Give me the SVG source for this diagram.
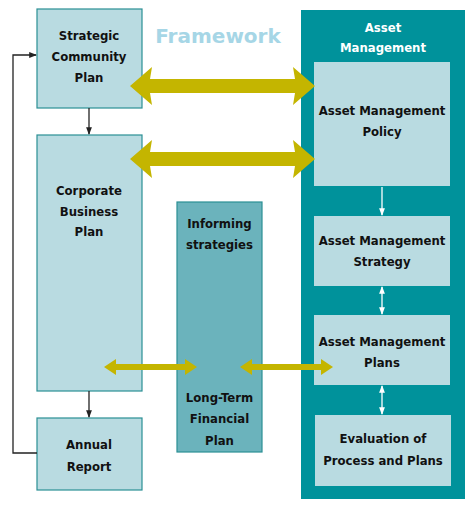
<svg xmlns="http://www.w3.org/2000/svg" width="474" height="507" viewBox="0 0 474 507">
<style>
.box{fill:#b9dbe1;stroke:#2a8f94;stroke-width:1.2}
.t{font-family:"DejaVu Sans Condensed","DejaVu Sans",sans-serif;font-weight:bold;font-size:13px;fill:#111;text-anchor:middle}
.w{fill:#fff}
.blk{stroke:#222;stroke-width:1.3;fill:none}
.wl{stroke:#fff;stroke-width:1.3;fill:none}
.gold{fill:#c4b500}
</style>
<defs>
<marker id="ab" viewBox="0 0 8 8" refX="7" refY="4" markerWidth="6" markerHeight="6" orient="auto-start-reverse"><path d="M0,1 L8,4 L0,7 z" fill="#222"/></marker>
<marker id="aw" viewBox="0 0 8 8" refX="7" refY="4" markerWidth="6" markerHeight="6" orient="auto-start-reverse"><path d="M0,1 L8,4 L0,7 z" fill="#fff"/></marker>
</defs>
<rect width="474" height="507" fill="#fff"/>
<text x="218" y="43" style="font-family:'DejaVu Sans',sans-serif;font-weight:bold;font-size:20px;fill:#a6d6e6;text-anchor:middle">Framework</text>

<g id="asset-management">
<rect x="301" y="10" width="164" height="489" fill="#00929b"/>
<text class="t w" x="383" y="32">Asset</text>
<text class="t w" x="383" y="52">Management</text>
</g>

<g id="strategic-community-plan">
<rect class="box" x="37" y="9" width="105" height="99"/>
<text class="t" x="89" y="40">Strategic</text>
<text class="t" x="89" y="61">Community</text>
<text class="t" x="89" y="82">Plan</text>
</g>
<g id="corporate-business-plan">
<rect class="box" x="37" y="135" width="105" height="256"/>
<text class="t" x="89" y="195">Corporate</text>
<text class="t" x="89" y="216">Business</text>
<text class="t" x="89" y="236">Plan</text>
</g>
<g id="annual-report">
<rect class="box" x="37" y="418" width="105" height="72"/>
<text class="t" x="89" y="449">Annual</text>
<text class="t" x="89" y="471">Report</text>
</g>
<g id="informing-strategies">
<rect x="177" y="202" width="85" height="250" fill="#6bb3bc" stroke="#2a8f94" stroke-width="1.2"/>
<text class="t" x="219.500" y="228">Informing</text>
<text class="t" x="219.500" y="249">strategies</text>
<text class="t" x="219.500" y="402">Long-Term</text>
<text class="t" x="219.500" y="423">Financial</text>
<text class="t" x="219.500" y="445">Plan</text>
</g>
<g id="am-policy">
<rect x="314" y="62" width="136" height="124" fill="#b9dbe1"/>
<text class="t" x="382" y="115">Asset Management</text>
<text class="t" x="382" y="136">Policy</text>
</g>
<g id="am-strategy">
<rect x="314" y="216" width="136" height="70" fill="#b9dbe1"/>
<text class="t" x="382" y="245">Asset Management</text>
<text class="t" x="382" y="266">Strategy</text>
</g>
<g id="am-plans">
<rect x="314" y="315" width="136" height="70" fill="#b9dbe1"/>
<text class="t" x="382" y="346">Asset Management</text>
<text class="t" x="382" y="367">Plans</text>
</g>
<g id="evaluation">
<rect x="315" y="415" width="136" height="71" fill="#b9dbe1"/>
<text class="t" x="383" y="443">Evaluation of</text>
<text class="t" x="383" y="465">Process and Plans</text>
</g>

<g id="connectors">
<path class="gold" d="M130,86 L152,67 L150,79 L295,79 L293,67 L315,86 L293,105 L295,93 L150,93 L152,105 z"/>
<path class="gold" d="M130,159 L152,140 L150,152 L295,152 L293,140 L315,159 L293,178 L295,166 L150,166 L152,178 z"/>
<path class="gold" d="M104,367 L116,359 L116,364 L185,364 L185,359 L197,367 L185,375 L185,370 L116,370 L116,375 z"/>
<path class="gold" d="M240,367 L252,359 L252,364 L321,364 L321,359 L333,367 L321,375 L321,370 L252,370 L252,375 z"/>
<line class="blk" x1="89" y1="108" x2="89" y2="134" marker-end="url(#ab)"/>
<line class="blk" x1="89" y1="391" x2="89" y2="417" marker-end="url(#ab)"/>
<polyline class="blk" points="37,453 13,453 13,55 36,55" marker-end="url(#ab)"/>
<line class="wl" x1="382" y1="187" x2="382" y2="215" marker-end="url(#aw)"/>
<line class="wl" x1="382" y1="287" x2="382" y2="314" marker-start="url(#aw)" marker-end="url(#aw)"/>
<line class="wl" x1="382" y1="386" x2="382" y2="414" marker-start="url(#aw)" marker-end="url(#aw)"/>
</g>
</svg>
